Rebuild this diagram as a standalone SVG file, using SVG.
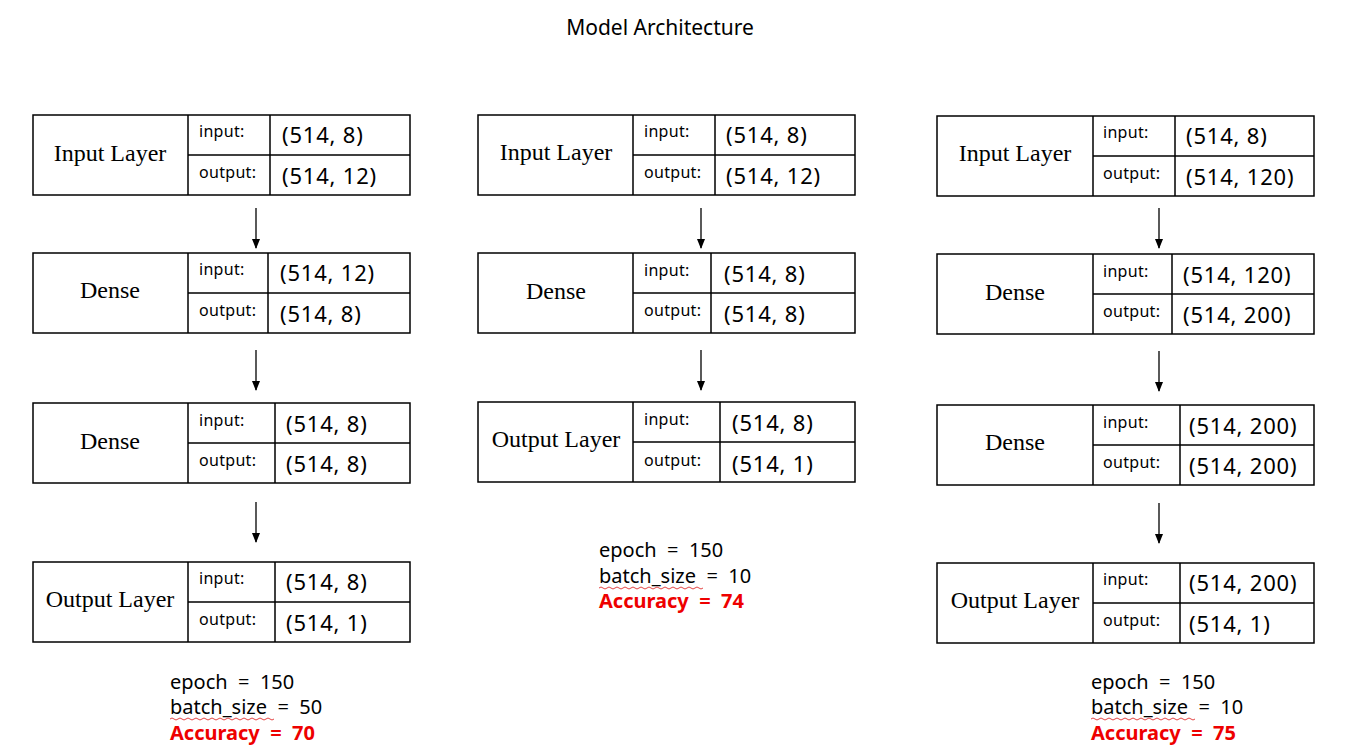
<svg xmlns="http://www.w3.org/2000/svg" width="1355" height="753" viewBox="0 0 1355 753">
<defs>
<style>
.box{fill:#fff;stroke:#000;stroke-width:1.5}
.ln{stroke:#000;stroke-width:1.5;fill:none}
.lbl{font-family:"Liberation Serif",serif;font-size:24px;fill:#000;text-anchor:middle}
.io{font-family:"Noto Sans","Open Sans",sans-serif;font-size:16px;letter-spacing:0.3px;fill:#000}
.val{font-family:"Noto Sans","Open Sans",sans-serif;font-size:22px;letter-spacing:0.8px;fill:#000}
.st{font-family:"Noto Sans","Open Sans",sans-serif;font-size:20px;fill:#000;white-space:pre}
.acc{font-family:"Noto Sans","Open Sans",sans-serif;font-size:20px;font-weight:bold;fill:#ee0000;white-space:pre}
.arr{stroke:#000;stroke-width:1.3;fill:none;marker-end:url(#ah)}
.wavy{stroke:#e03030;stroke-width:0.9;fill:none}
.title{font-family:"Noto Sans","Open Sans",sans-serif;font-size:21px;fill:#000;text-anchor:middle}
</style>
<marker id="ah" markerWidth="10" markerHeight="8" refX="9" refY="4" orient="auto" markerUnits="userSpaceOnUse" viewBox="0 0 10 8">
<path d="M0,0 L10,4 L0,8 Z" fill="#000"/>
</marker>
</defs>
<text class="title" x="660" y="35">Model Architecture</text>

<!-- Column 1 -->
<g id="c1-input">
<rect class="box" x="33" y="115" width="377" height="80"/>
<path class="ln" d="M188,115 V195 M188,155 H410 M270,115 V195"/>
<text class="lbl" x="110" y="161">Input Layer</text>
<text class="io" x="199" y="137">input:</text>
<text class="io" x="199" y="178">output:</text>
<text class="val" x="282" y="143">(514, 8)</text>
<text class="val" x="282" y="184">(514, 12)</text>
</g>
<g id="c1-dense1">
<rect class="box" x="33" y="253" width="377" height="80"/>
<path class="ln" d="M188,253 V333 M188,293 H410 M268,253 V333"/>
<text class="lbl" x="110" y="298">Dense</text>
<text class="io" x="199" y="275">input:</text>
<text class="io" x="199" y="316">output:</text>
<text class="val" x="280" y="281">(514, 12)</text>
<text class="val" x="280" y="322">(514, 8)</text>
</g>
<g id="c1-dense2">
<rect class="box" x="33" y="403" width="377" height="80"/>
<path class="ln" d="M188,403 V483 M188,443 H410 M275,403 V483"/>
<text class="lbl" x="110" y="449">Dense</text>
<text class="io" x="199" y="426">input:</text>
<text class="io" x="199" y="466">output:</text>
<text class="val" x="286" y="432">(514, 8)</text>
<text class="val" x="286" y="472">(514, 8)</text>
</g>
<g id="c1-output">
<rect class="box" x="33" y="562" width="377" height="80"/>
<path class="ln" d="M188,562 V642 M188,602 H410 M275,562 V642"/>
<text class="lbl" x="110" y="607">Output Layer</text>
<text class="io" x="199" y="584">input:</text>
<text class="io" x="199" y="625">output:</text>
<text class="val" x="286" y="590">(514, 8)</text>
<text class="val" x="286" y="631">(514, 1)</text>
</g>
<g id="c1-stats">
<text class="st" x="170" y="689" xml:space="preserve">epoch  =  150</text>
<text class="st" x="170" y="714" xml:space="preserve">batch_size  =  50</text>
<path class="wavy" d="M170,719 q2,-2 4,0 t4,0 t4,0 t4,0 t4,0 t4,0 t4,0 t4,0 t4,0 t4,0 t4,0 t4,0 t4,0 t4,0 t4,0 t4,0 t4,0 t4,0 t4,0 t4,0 t4,0 t4,0 t4,0 t4,0 t4,0 t4,0"/>
<text class="acc" x="170" y="740" xml:space="preserve">Accuracy  =  70</text>
</g>

<!-- Column 2 -->
<g id="c2-input">
<rect class="box" x="478" y="115" width="377" height="80"/>
<path class="ln" d="M633,115 V195 M633,155 H855 M715,115 V195"/>
<text class="lbl" x="556" y="160">Input Layer</text>
<text class="io" x="644" y="137">input:</text>
<text class="io" x="644" y="178">output:</text>
<text class="val" x="726" y="143">(514, 8)</text>
<text class="val" x="726" y="184">(514, 12)</text>
</g>
<g id="c2-dense">
<rect class="box" x="478" y="253" width="377" height="80"/>
<path class="ln" d="M633,253 V333 M633,293 H855 M711,253 V333"/>
<text class="lbl" x="556" y="299">Dense</text>
<text class="io" x="644" y="276">input:</text>
<text class="io" x="644" y="316">output:</text>
<text class="val" x="724" y="282">(514, 8)</text>
<text class="val" x="724" y="322">(514, 8)</text>
</g>
<g id="c2-output">
<rect class="box" x="478" y="402" width="377" height="80"/>
<path class="ln" d="M633,402 V482 M633,442 H855 M720,402 V482"/>
<text class="lbl" x="556" y="447">Output Layer</text>
<text class="io" x="644" y="425">input:</text>
<text class="io" x="644" y="466">output:</text>
<text class="val" x="732" y="431">(514, 8)</text>
<text class="val" x="732" y="472">(514, 1)</text>
</g>
<g id="c2-stats">
<text class="st" x="599" y="557" xml:space="preserve">epoch  =  150</text>
<text class="st" x="599" y="583" xml:space="preserve">batch_size  =  10</text>
<path class="wavy" d="M599,588 q2,-2 4,0 t4,0 t4,0 t4,0 t4,0 t4,0 t4,0 t4,0 t4,0 t4,0 t4,0 t4,0 t4,0 t4,0 t4,0 t4,0 t4,0 t4,0 t4,0 t4,0 t4,0 t4,0 t4,0 t4,0 t4,0 t4,0"/>
<text class="acc" x="599" y="608" xml:space="preserve">Accuracy  =  74</text>
</g>

<!-- Column 3 -->
<g id="c3-input">
<rect class="box" x="937" y="116" width="377" height="80"/>
<path class="ln" d="M1093,116 V196 M1093,156 H1314 M1175,116 V196"/>
<text class="lbl" x="1015" y="161">Input Layer</text>
<text class="io" x="1103" y="138">input:</text>
<text class="io" x="1103" y="179">output:</text>
<text class="val" x="1186" y="144">(514, 8)</text>
<text class="val" x="1186" y="185">(514, 120)</text>
</g>
<g id="c3-dense1">
<rect class="box" x="937" y="254" width="377" height="80"/>
<path class="ln" d="M1093,254 V334 M1093,294 H1314 M1172,254 V334"/>
<text class="lbl" x="1015" y="300">Dense</text>
<text class="io" x="1103" y="277">input:</text>
<text class="io" x="1103" y="317">output:</text>
<text class="val" x="1183" y="283">(514, 120)</text>
<text class="val" x="1183" y="323">(514, 200)</text>
</g>
<g id="c3-dense2">
<rect class="box" x="937" y="405" width="377" height="80"/>
<path class="ln" d="M1093,405 V485 M1093,445 H1314 M1180,405 V485"/>
<text class="lbl" x="1015" y="450">Dense</text>
<text class="io" x="1103" y="428">input:</text>
<text class="io" x="1103" y="468">output:</text>
<text class="val" x="1189" y="434">(514, 200)</text>
<text class="val" x="1189" y="474">(514, 200)</text>
</g>
<g id="c3-output">
<rect class="box" x="937" y="563" width="377" height="80"/>
<path class="ln" d="M1093,563 V643 M1093,603 H1314 M1180,563 V643"/>
<text class="lbl" x="1015" y="608">Output Layer</text>
<text class="io" x="1103" y="585">input:</text>
<text class="io" x="1103" y="626">output:</text>
<text class="val" x="1189" y="591">(514, 200)</text>
<text class="val" x="1189" y="632">(514, 1)</text>
</g>
<g id="c3-stats">
<text class="st" x="1091" y="689" xml:space="preserve">epoch  =  150</text>
<text class="st" x="1091" y="714" xml:space="preserve">batch_size  =  10</text>
<path class="wavy" d="M1091,719 q2,-2 4,0 t4,0 t4,0 t4,0 t4,0 t4,0 t4,0 t4,0 t4,0 t4,0 t4,0 t4,0 t4,0 t4,0 t4,0 t4,0 t4,0 t4,0 t4,0 t4,0 t4,0 t4,0 t4,0 t4,0 t4,0 t4,0"/>
<text class="acc" x="1091" y="740" xml:space="preserve">Accuracy  =  75</text>
</g>

<g id="connectors">
<path class="arr" d="M256,208 V248"/>
<path class="arr" d="M256,350 V390"/>
<path class="arr" d="M256,502 V542"/>
<path class="arr" d="M701,208 V248"/>
<path class="arr" d="M701,350 V390"/>
<path class="arr" d="M1159,208 V248"/>
<path class="arr" d="M1159,351 V391"/>
<path class="arr" d="M1159,503 V543"/>
</g>
</svg>
